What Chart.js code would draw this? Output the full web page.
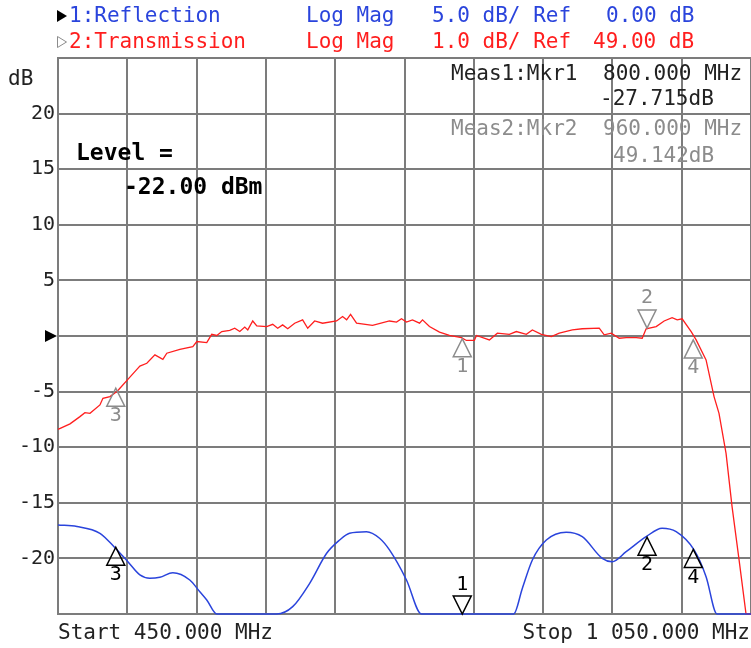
<!DOCTYPE html>
<html>
<head>
<meta charset="utf-8">
<script src="https://cdn.jsdelivr.net/npm/chart.js@4"></script>
<style>
  html, body { margin: 0; padding: 0; background: #fff; }
  #wrap { width: 751px; height: 648px; }
</style>
</head>
<body>
<div id="wrap"><canvas id="vna" width="751" height="648"></canvas></div>
<script>
// trace 1: reflection, dB (5 dB/div, ref 0 dB)
const reflFreq = [450.0, 466.4, 486.3, 499.3, 510.5, 520.9, 529.5, 538.2, 549.4, 564.1,
  572.8, 578.8, 587.5, 639.3, 653.2, 667.9, 682.6, 693.8, 702.4, 717.1,
  728.4, 737.0, 751.7, 764.7, 844.5, 852.0, 860.7, 872.8, 890.0, 903.9,
  921.2, 929.8, 941.9, 959.2, 973.0, 985.2, 1000.7, 1011.1, 1020.6, 1050.0];
const reflDb = [-17.0, -17.13, -17.74, -19.04, -20.3, -21.49, -21.79, -21.7, -21.29, -21.94,
  -23.0, -23.74, -25, -25, -24.34, -22.24, -19.54, -18.35, -17.74, -17.6,
  -18.19, -19.24, -21.94, -25, -25, -22.7, -20.14, -18.35, -17.65, -18.05,
  -19.99, -20.3, -19.4, -18.05, -17.29, -17.6, -19.24, -21.64, -25, -25];

// trace 2: transmission, dB (1 dB/div, ref 49 dB)
const transFreq = [450.0, 460.4, 469.0, 473.3, 477.7, 486.3, 488.9, 495.0, 501.0, 503.6,
  510.5, 518.3, 520.9, 526.9, 533.9, 540.8, 544.2, 555.5, 566.7, 570.2,
  578.8, 583.1, 587.5, 591.8, 598.7, 603.0, 607.4, 611.7, 614.3, 618.6,
  622.1, 630.7, 635.9, 640.2, 644.5, 648.9, 654.9,
  661.8, 666.2, 672.2, 679.1, 691.2, 696.4, 699.9, 703.3, 708.5, 722.3,
  737.0, 743.1, 747.4, 751.7, 756.9, 763.0, 765.6, 771.6, 780.3, 788.9,
  799.3, 803.6, 810.5, 812.3, 823.5, 830.4, 840.8, 846.8, 855.5, 860.7,
  868.5, 877.1, 884.0, 895.3, 903.9, 918.6, 922.9, 929.0, 935.9, 942.0,
  950.6, 955.8, 959.2, 967.9, 974.8, 981.7, 986.1, 990.4, 998.2, 1002.5,
  1011.1, 1018.0, 1022.3, 1028.4, 1033.6, 1039.7, 1045.7, 1050.0];
const transDb = [47.32, 47.42, 47.55, 47.62, 47.61, 47.76, 47.88, 47.91, 48.00, 48.06,
  48.22, 48.40, 48.46, 48.51, 48.66, 48.58, 48.69, 48.76, 48.81, 48.90,
  48.88, 49.03, 49.01, 49.08, 49.10, 49.14, 49.08, 49.16, 49.11, 49.27,
  49.18, 49.17, 49.21, 49.14, 49.20, 49.13, 49.23,
  49.29, 49.14, 49.27, 49.23, 49.27, 49.35, 49.29, 49.39, 49.23, 49.19,
  49.27, 49.25, 49.31, 49.25, 49.29, 49.23, 49.29, 49.17, 49.07, 49.01,
  48.97, 48.92, 48.92, 49.01, 48.93, 49.05, 49.03, 49.08, 49.03, 49.11,
  49.03, 48.99, 49.05, 49.11, 49.13, 49.14, 49.02, 49.05, 48.96, 48.97,
  48.97, 48.96, 49.13, 49.17, 49.27, 49.33, 49.29, 49.31, 49.08, 48.93,
  48.57, 47.91, 47.61, 46.89, 45.93, 44.97, 44.0, 44.0];

// markers
const markerNames = ['1', '2', '3', '4'];
const markerFreq = [800, 960, 500, 1000];
const reflMarkerDb = [-27.715, -18.1, -19.0, -19.2];
const transMarkerDb = [48.95, 49.142, 48.06, 48.93];

const yTicks = [20, 15, 10, 5, -5, -10, -15, -20];

const MONO = '"DejaVu Sans Mono", "Liberation Mono", monospace';
const BLUE = '#2a44dc';
const RED = '#ff1e1e';
const GRAY = '#7c7c7c';
const LGRAY = '#8c8c8c';

const toPts = (xs, ys) => xs.map((x, i) => ({ x: x, y: ys[i] }));

const text = (ctx, s, x, y, color, font, align) => {
  ctx.font = font;
  ctx.fillStyle = color;
  ctx.textAlign = align || 'left';
  ctx.textBaseline = 'middle';
  ctx.fillText(s, x, y);
};

// draws a marker triangle; tip sits on the trace
const triangle = (ctx, x, y, down, color) => {
  ctx.beginPath();
  if (down) {
    ctx.moveTo(x, y); ctx.lineTo(x - 9, y - 18); ctx.lineTo(x + 9, y - 18);
  } else {
    ctx.moveTo(x, y); ctx.lineTo(x - 9, y + 18); ctx.lineTo(x + 9, y + 18);
  }
  ctx.closePath();
  ctx.strokeStyle = color;
  ctx.lineWidth = 1.5;
  ctx.stroke();
};

const analyzerPlugin = {
  id: 'analyzer',
  afterDraw(chart) {
    const ctx = chart.ctx;
    const xs = chart.scales.x, ys = chart.scales.y, y2 = chart.scales.y2;
    const area = chart.chartArea;
    ctx.save();

    // header
    const f = '21px ' + MONO;
    ctx.fillStyle = '#000';
    ctx.beginPath(); ctx.moveTo(57, 10); ctx.lineTo(67, 16); ctx.lineTo(57, 22); ctx.closePath(); ctx.fill();
    ctx.strokeStyle = LGRAY; ctx.lineWidth = 1;
    ctx.beginPath(); ctx.moveTo(57.5, 36.5); ctx.lineTo(66.5, 42); ctx.lineTo(57.5, 47.5); ctx.closePath(); ctx.stroke();
    text(ctx, '1:Reflection', 69, 17, BLUE, f);
    text(ctx, 'Log Mag', 306, 17, BLUE, f);
    text(ctx, '5.0 dB/ Ref', 432, 17, BLUE, f);
    text(ctx, '0.00 dB', 606, 17, BLUE, f);
    text(ctx, '2:Transmission', 69, 43, RED, f);
    text(ctx, 'Log Mag', 306, 43, RED, f);
    text(ctx, '1.0 dB/ Ref', 432, 43, RED, f);
    text(ctx, '49.00 dB', 593, 43, RED, f);

    // axis unit and reference arrow
    text(ctx, 'dB', 8, 80, '#222', f);
    const y0 = ys.getPixelForValue(0);
    ctx.fillStyle = '#000';
    ctx.beginPath(); ctx.moveTo(45, y0 - 6); ctx.lineTo(57, y0); ctx.lineTo(45, y0 + 6); ctx.closePath(); ctx.fill();

    // marker readouts
    text(ctx, 'Meas1:Mkr1', 451, 75, '#222', f);
    text(ctx, '800.000 MHz', 603, 75, '#222', f);
    text(ctx, '-27.715dB', 600, 100, '#222', f);
    text(ctx, 'Meas2:Mkr2', 451, 130, LGRAY, f);
    text(ctx, '960.000 MHz', 603, 130, LGRAY, f);
    text(ctx, '49.142dB', 613, 157, LGRAY, f);

    // level annotation
    const bf = 'bold 23px ' + MONO;
    text(ctx, 'Level =', 76, 154, '#000', bf);
    text(ctx, '-22.00 dBm', 124, 188, '#000', bf);

    // start / stop
    text(ctx, 'Start 450.000 MHz', 58, 634, '#222', f);
    text(ctx, 'Stop 1 050.000 MHz', 750, 634, '#222', f, 'right');

    // markers on both traces
    const nf = '20px ' + MONO;
    markerFreq.forEach((fr, i) => {
      const px = xs.getPixelForValue(fr);
      // transmission (inactive channel, gray); marker 2 is active
      let py = y2.getPixelForValue(transMarkerDb[i]);
      const redDown = markerNames[i] === '2';
      triangle(ctx, px, py, redDown, LGRAY);
      text(ctx, markerNames[i], px, redDown ? py - 30 : py + 28, LGRAY, nf, 'center');
      // reflection (active channel, black); marker 1 is active
      const v = Math.max(reflMarkerDb[i], ys.min);
      py = ys.getPixelForValue(v);
      const blueDown = markerNames[i] === '1';
      if (blueDown) py = Math.min(py, area.bottom);
      triangle(ctx, px, py, blueDown, '#000');
      text(ctx, markerNames[i], px, blueDown ? py - 29 : py + 28, '#000', nf, 'center');
    });

    ctx.restore();
  }
};

new Chart(document.getElementById('vna'), {
  type: 'line',
  data: {
    datasets: [
      {
        label: '1:Reflection',
        data: toPts(reflFreq, reflDb),
        borderColor: BLUE,
        borderWidth: 1.5,
        pointRadius: 0,
        cubicInterpolationMode: 'monotone',
        yAxisID: 'y',
        clip: 3
      },
      {
        label: '2:Transmission',
        data: toPts(transFreq, transDb),
        borderColor: RED,
        borderWidth: 1.3,
        pointRadius: 0,
        tension: 0,
        yAxisID: 'y2',
        clip: 3
      }
    ]
  },
  options: {
    responsive: false,
    animation: false,
    layout: { padding: { top: 58, bottom: 34, left: 0, right: 0 } },
    plugins: { legend: { display: false }, tooltip: { enabled: false } },
    scales: {
      x: {
        type: 'linear',
        min: 450,
        max: 1050,
        ticks: { display: false, stepSize: 60 },
        grid: { color: GRAY, lineWidth: 2, drawTicks: false },
        border: { display: false },
        afterFit: (axis) => { axis.height = 0; }
      },
      y: {
        min: -25,
        max: 25,
        ticks: {
          stepSize: 5,
          padding: 3,
          color: '#222',
          font: { family: MONO, size: 20 },
          callback: (v) => (yTicks.includes(v) ? String(v) : '')
        },
        grid: { color: GRAY, lineWidth: 2, drawTicks: false },
        border: { color: GRAY, width: 2 },
        afterFit: (axis) => { axis.width = 58; }
      },
      y2: {
        display: false,
        min: 44,
        max: 54
      }
    }
  },
  plugins: [analyzerPlugin]
});
</script>
</body>
</html>
